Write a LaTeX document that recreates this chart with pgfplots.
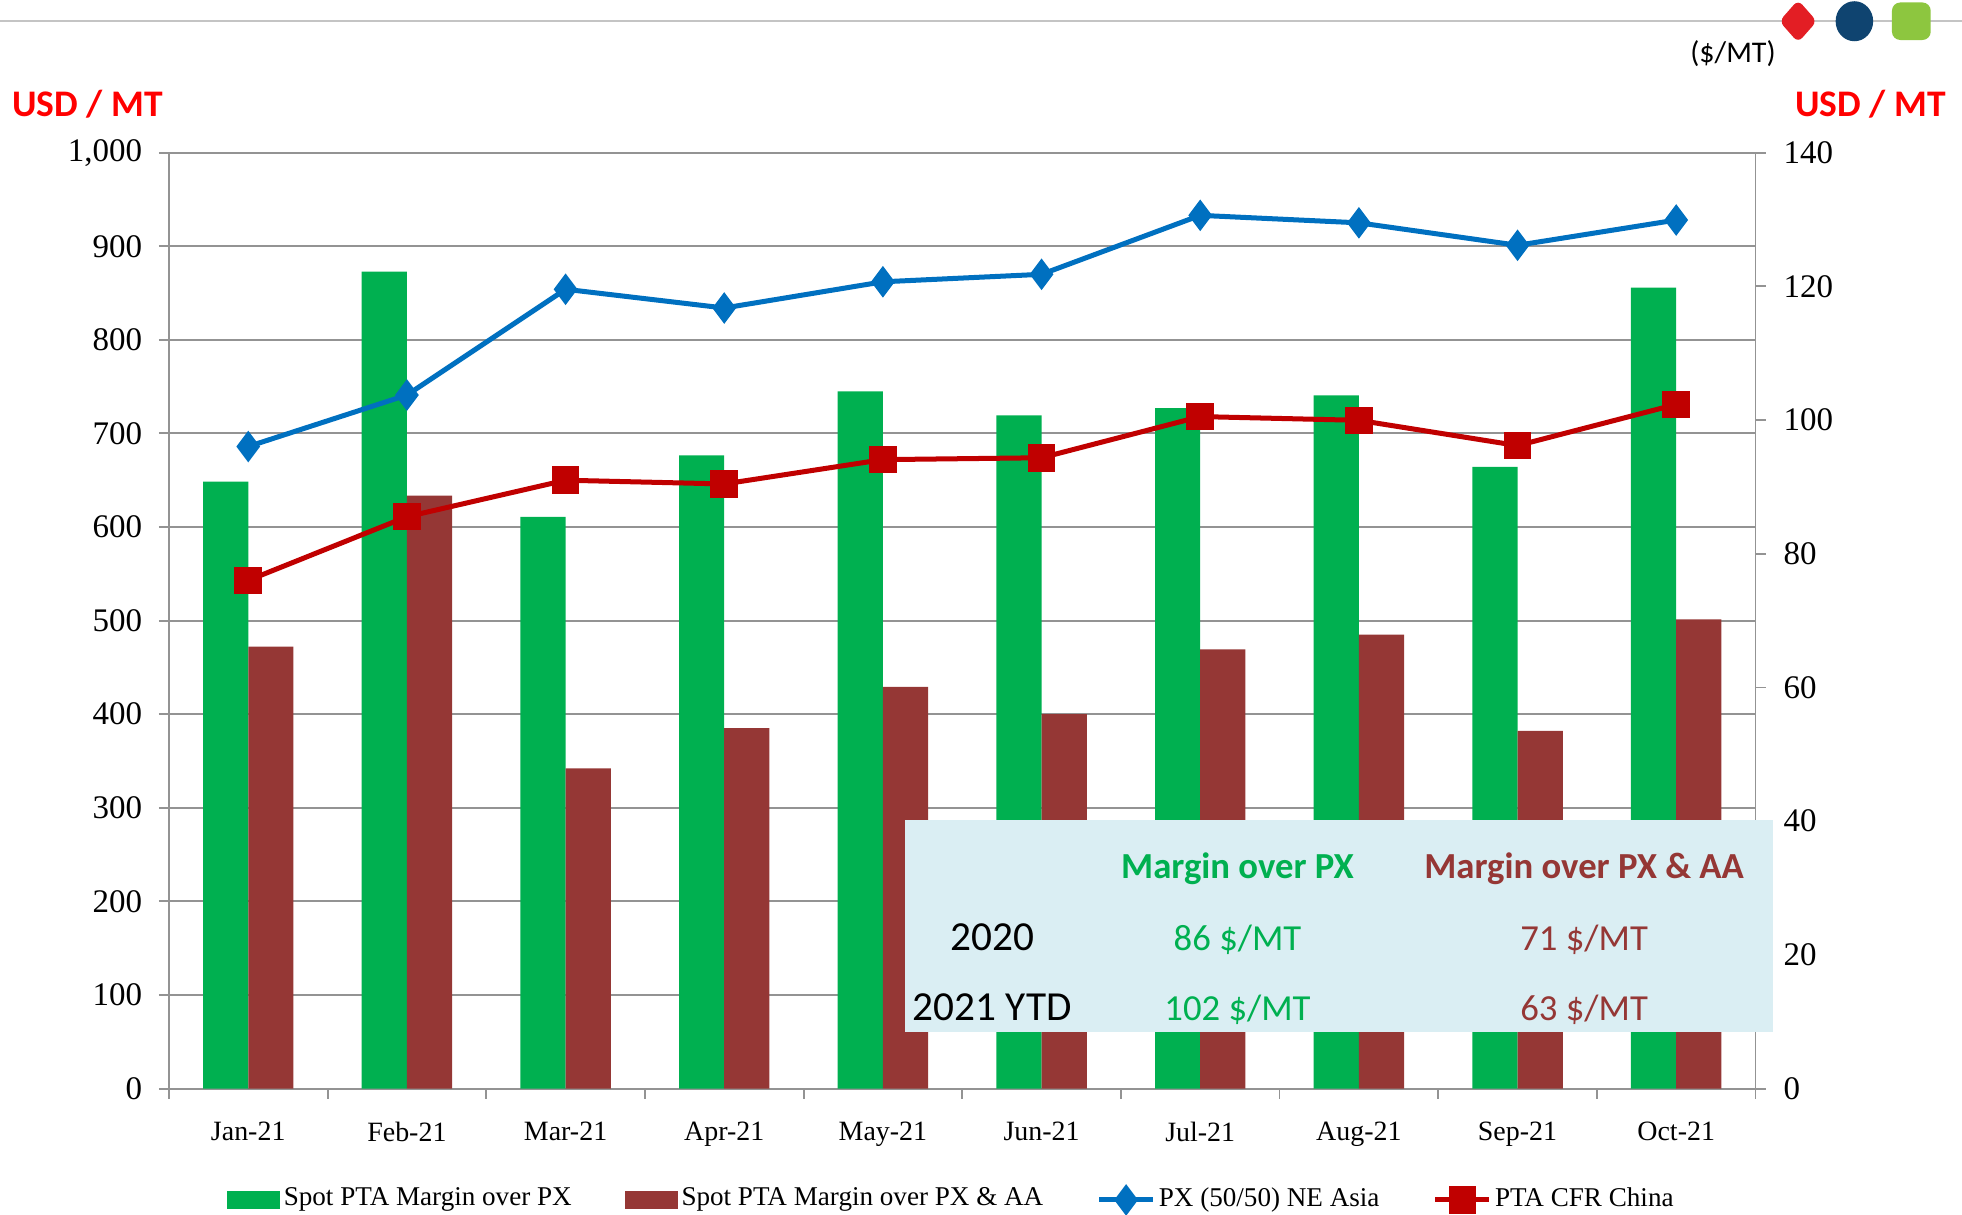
\documentclass[border=0pt]{standalone}
\usepackage{fontspec}
\setmainfont{Liberation Serif}
\newfontfamily\calib{Carlito}
\usepackage{pgfplots}
\pgfplotsset{compat=1.18}

\definecolor{barG}{HTML}{00B050}
\definecolor{barB}{HTML}{953735}
\definecolor{lnBlue}{HTML}{0070C0}
\definecolor{lnRed}{HTML}{C00000}
\definecolor{boxFill}{HTML}{DAEEF3}
\definecolor{gridgray}{HTML}{939393}
\definecolor{topline}{HTML}{C4C4C4}
\definecolor{icoRed}{HTML}{E31E24}
\definecolor{icoNavy}{HTML}{0F4470}
\definecolor{icoGreen}{HTML}{8DC63F}
\definecolor{usdRed}{HTML}{FF0000}

% months at 0..9
\pgfplotstableread{
x green brown
0 90.8 66.1
1 122.2 88.7
2 85.5 47.9
3 94.7 53.9
4 104.3 60.1
5 100.7 56.0
6 101.8 65.7
7 103.7 67.9
8 93.0 53.5
9 119.8 70.2
}\margins
\pgfplotstableread{
x px pta
0 686 543
1 741 611
2 854 650
3 834 646
4 862 672
5 870 674
6 933 718
7 925 714
8 901 687
9 928 731
}\prices

\begin{document}
\begin{tikzpicture}[x=0.3pt,y=0.3pt]
\path[use as bounding box] (0,0) rectangle (1568,971);

% header line and icons
\draw[topline, line width=0.6pt] (0,954) -- (1568,954);
\fill[icoRed, rounded corners=1.5pt] (1437,971) -- (1452,954) -- (1437,937) -- (1422,954) -- cycle;
\fill[icoNavy] (1482,954) ellipse [x radius=15, y radius=16];
\fill[icoGreen, rounded corners=2pt] (1512,939) rectangle (1543,969);
\node[font=\calib\fontsize{7.2}{8}\selectfont] at (1385,928) {(\$/MT)};
\node[font=\calib\bfseries\fontsize{9}{10}\selectfont, text=usdRed] at (70,888) {USD / MT};
\node[font=\calib\bfseries\fontsize{9}{10}\selectfont, text=usdRed] at (1495,888) {USD / MT};

\pgfplotsset{base/.style={
  scale only axis, width=380.4pt, height=224.4pt,
  at={(40.5pt,30.3pt)}, anchor=south west,
  xmin=-0.5, xmax=9.5,
  /pgf/number format/assume math mode=true,
  tick align=outside,
  axis line style={gridgray, line width=0.45pt},
}}

% axis 1: left scale, grid, month labels
\begin{axis}[base,
  ymin=0, ymax=1000, ytick={0,100,...,1000},
  ymajorgrids, grid style={gridgray, line width=0.45pt},
  axis x line*=bottom, axis y line*=left,
  xtick={0,...,9},
  xticklabels={Jan-21,Feb-21,Mar-21,Apr-21,May-21,Jun-21,Jul-21,Aug-21,Sep-21,Oct-21},
  minor xtick={-0.5,0.5,...,9.5},
  major x tick style={draw=none},
  minor x tick style={gridgray, line width=0.45pt},
  major y tick style={gridgray, line width=0.45pt},
  major tick length=2.4pt, minor tick length=2.4pt,
  yticklabel style={font=\fontsize{7.9}{9}\selectfont, /pgf/number format/1000 sep={,}, xshift=-0.5pt},
  xticklabel style={font=\fontsize{6.7}{8}\selectfont, yshift=-2pt},
]
\addplot[draw=none, forget plot] coordinates {(0,0)};
\end{axis}

% axis 2: right scale, margin bars
\begin{axis}[base,
  ymin=0, ymax=140, ytick={0,20,...,140},
  axis y line*=right, axis x line=none,
  major y tick style={gridgray, line width=0.45pt},
  major tick length=2.4pt,
  yticklabel style={font=\fontsize{7.9}{9}\selectfont, xshift=0.8pt},
  ybar, bar width=0.285,
]
\addplot[fill=barG, draw=none, bar shift=-0.1425] table[x=x, y=green] {\margins};
\addplot[fill=barB, draw=none, bar shift=0.1425] table[x=x, y=brown] {\margins};
\end{axis}

% summary box
\fill[boxFill] (723,146) rectangle (1417,316);
\begin{scope}[every node/.style={font=\calib\fontsize{8.8}{10}\selectfont}]
\node[font=\calib\bfseries\fontsize{8.8}{10}\selectfont, text=barG] at (989,277) {Margin over PX};
\node[font=\calib\bfseries\fontsize{8.8}{10}\selectfont, text=barB] at (1266,277) {Margin over PX \& AA};
\node[font=\calib\fontsize{9.9}{11}\selectfont] at (793,222) {2020};
\node[text=barG] at (989,220) {86 \$/MT};
\node[text=barB] at (1266,220) {71 \$/MT};
\node[font=\calib\fontsize{9.9}{11}\selectfont] at (793,166) {2021 YTD};
\node[text=barG] at (989,164) {102 \$/MT};
\node[text=barB] at (1266,164) {63 \$/MT};
\end{scope}

% axis 3: price lines and legend
\begin{axis}[base,
  ymin=0, ymax=1000, hide axis,
  legend image code/.code={\draw[mark repeat=2,mark phase=2,#1] plot coordinates {(0pt,0pt)(6.45pt,0pt)(12.9pt,0pt)};},
  legend style={draw=none, fill=none, at={(0.4937,-0.119)}, anchor=center,
    font=\fontsize{6.5}{8}\selectfont, legend columns=4,
    /tikz/every even column/.append style={column sep=12pt},
    nodes={inner sep=0.8pt}},
  legend cell align=left,
]
\addlegendimage{legend image code/.code={\fill[barG] (0pt,-1.9pt) rectangle (12.3pt,1.9pt);}}
\addlegendentry{Spot PTA Margin over PX}
\addlegendimage{legend image code/.code={\fill[barB] (0pt,-1.9pt) rectangle (12.3pt,1.9pt);}}
\addlegendentry{Spot PTA Margin over PX \& AA}
\addplot[lnBlue, line width=1.2pt, mark=diamond*, mark size=2.8pt, mark options={solid, fill=lnBlue}] table[x=x, y=px] {\prices};
\addlegendentry{PX (50/50) NE Asia}
\addplot[lnRed, line width=1.2pt, mark=square*, mark size=2.7pt, mark options={solid, fill=lnRed, rounded corners=0.6pt}] table[x=x, y=pta] {\prices};
\addlegendentry{PTA CFR China}
\end{axis}
\end{tikzpicture}
\end{document}
